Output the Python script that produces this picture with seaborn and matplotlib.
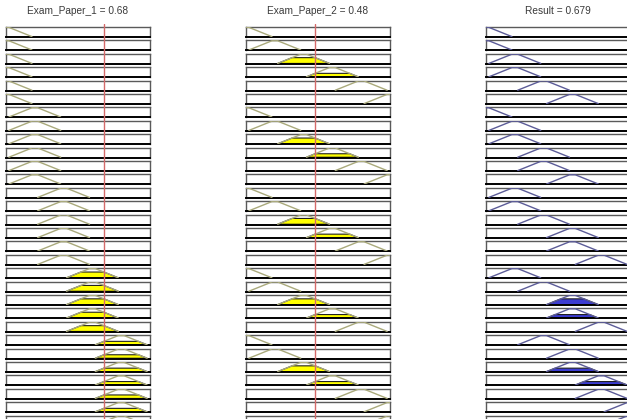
import numpy as np
import matplotlib
matplotlib.use("Agg")
import matplotlib.pyplot as plt
import seaborn as sns

# ---- data ----
input_values = [0.68, 0.48]
result_value = 0.679
titles = ["Exam_Paper_1 = 0.68", "Exam_Paper_2 = 0.48", "Result = 0.679"]

# trapezoidal membership functions (shared by inputs and output)
mf_params = [
    [-0.18, -0.02, 0.02, 0.18],
    [0.02, 0.18, 0.22, 0.38],
    [0.22, 0.38, 0.42, 0.58],
    [0.42, 0.58, 0.62, 0.78],
    [0.62, 0.78, 0.82, 0.98],
    [0.82, 0.98, 1.02, 1.18],
]

# rule table (1-based MF indices)
rule_p1 = [1, 1, 1, 1, 1, 1,
           2, 2, 2, 2, 2, 2,
           3, 3, 3, 3, 3, 3,
           4, 4, 4, 4, 4,
           5, 5, 5, 5, 5, 5,
           5]
rule_p2 = [1, 2, 3, 4, 5, 6,
           1, 2, 3, 4, 5, 6,
           1, 2, 3, 4, 5, 6,
           1, 2, 3, 4, 5,
           1, 2, 3, 4, 5, 6,
           6]
rule_out = [1, 1, 2, 2, 3, 4,
            1, 2, 2, 3, 3, 4,
            2, 2, 3, 4, 4, 5,
            2, 3, 4, 4, 5,
            3, 4, 4, 5, 5, 6,
            6]

# ---- style ----
sns.set_theme(style="white")
plt.rcParams["font.family"] = ["Liberation Sans", "DejaVu Sans"]

W, H = 627, 419
fig = plt.figure(figsize=(W / 100, H / 100), dpi=100)
fig.patch.set_facecolor("white")

col_left = [6, 246, 486]
col_w = 144
row_top0 = 27.0
row_step = 13.4
row_h = 10.0

in_line = "#aaaa7c"
out_line = "#5c5c98"
yellow = "#ffff00"
blue = "#3c3cd2"
red = "#d46a6a"


def degree(p, v):
    return float(np.interp(v, p, [0, 1, 1, 0], left=0, right=0))


def fax(px_left, px_top, px_w, px_h):
    return fig.add_axes([px_left / W, 1 - (px_top + px_h) / H, px_w / W, px_h / H])


for r in range(len(rule_p1)):
    top = row_top0 + r * row_step
    mus = [degree(mf_params[m - 1], v)
           for m, v in zip([rule_p1[r], rule_p2[r]], input_values)]
    fire = min(mus)
    for c in range(3):
        ax = fax(col_left[c], top, col_w, row_h)
        ax.set_xlim(0, 1)
        ax.set_ylim(-0.04, 1.04)
        ax.set_xticks([])
        ax.set_yticks([])
        ax.set_facecolor("white")
        if c < 2:
            mfi = [rule_p1[r], rule_p2[r]][c]
            lc, fc, mu = in_line, yellow, mus[c]
        else:
            mfi = rule_out[r]
            lc, fc, mu = out_line, blue, fire
        a, b, cc, d = mf_params[mfi - 1]
        if mu > 0:
            fx = [a, a + mu * (b - a), d - mu * (d - cc), d]
            fy = [0, mu, mu, 0]
            ax.fill(fx, fy, facecolor=fc, edgecolor="#202020", lw=0.8, zorder=2)
        sns.lineplot(x=[a, b, cc, d], y=[0, 1, 1, 0], ax=ax, color=lc,
                     lw=1.0, zorder=4, sort=False)
        for s in ["top", "left", "right"]:
            ax.spines[s].set_color("#5a5a5a")
            ax.spines[s].set_linewidth(1.0)
        ax.spines["bottom"].set_color("#000000")
        ax.spines["bottom"].set_linewidth(1.4)

# red input lines overlay
for c in range(2):
    ov = fax(col_left[c], 24, col_w, H - 24)
    ov.set_xlim(0, 1)
    ov.set_ylim(0, 1)
    ov.axis("off")
    ov.patch.set_alpha(0)
    ov.axvline(input_values[c], color=red, lw=1.0)

# titles
for c in range(3):
    fig.text((col_left[c] + col_w / 2) / W, 1 - 10.5 / H, titles[c],
             ha="center", va="center", fontsize=7.3, color="#3a3a3a")

fig.savefig("out.png", dpi=100, facecolor="white")
